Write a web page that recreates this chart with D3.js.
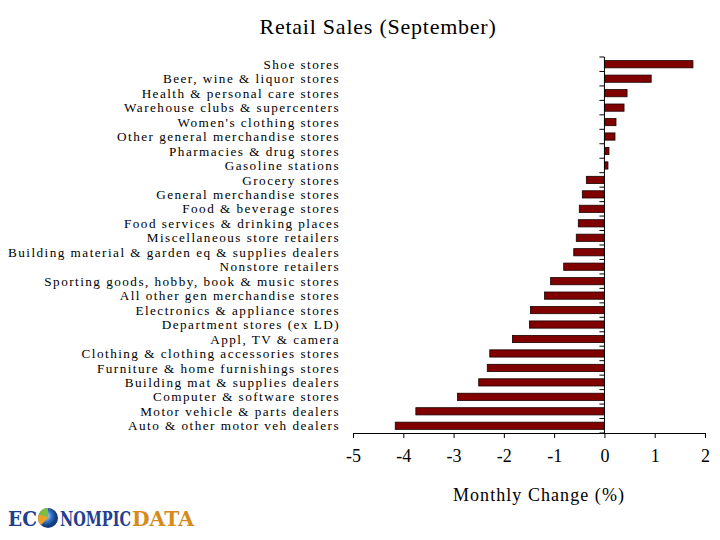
<!DOCTYPE html>
<html><head><meta charset="utf-8">
<script src="https://cdn.jsdelivr.net/npm/d3@7"></script>
<style>body{margin:0;background:#fff}svg{display:block}</style>
</head><body>
<script>
const categories = ["Shoe stores","Beer, wine & liquor stores","Health & personal care stores","Warehouse clubs & supercenters","Women's clothing stores","Other general merchandise stores","Pharmacies & drug stores","Gasoline stations","Grocery stores","General merchandise stores","Food & beverage stores","Food services & drinking places","Miscellaneous store retailers","Building material & garden eq & supplies dealers","Nonstore retailers","Sporting goods, hobby, book & music stores","All other gen merchandise stores","Electronics & appliance stores","Department stores (ex LD)","Appl, TV &  camera","Clothing & clothing accessories stores","Furniture & home furnishings stores","Building mat & supplies dealers","Computer & software stores","Motor vehicle & parts dealers","Auto & other motor veh dealers"];
const values = [1.76,0.93,0.45,0.39,0.23,0.21,0.09,0.07,-0.36,-0.44,-0.50,-0.52,-0.56,-0.61,-0.81,-1.07,-1.19,-1.47,-1.49,-1.83,-2.28,-2.33,-2.50,-2.92,-3.75,-4.16];
const xTicks = [-5,-4,-3,-2,-1,0,1,2];
const title = "Retail Sales (September)";
const xTitle = "Monthly Change (%)";

const W=720,H=540;
const svg=d3.select("body").append("svg").attr("width",W).attr("height",H);
const font="'Liberation Serif','DejaVu Serif',serif";
const x=d3.scaleLinear().domain([-5,2]).range([353,705]);
const y=d3.scaleBand().domain(categories).range([57,433]).paddingInner(0.5).paddingOuter(0.25);

function fitWidth(sel, target){
  const n=sel.text().length;
  const w=sel.node().getComputedTextLength();
  sel.attr("letter-spacing",((target-w)/n)+"px");
}

const t=svg.append("text").attr("x",378).attr("y",34).attr("text-anchor","middle")
  .attr("font-family",font).attr("font-size",22).attr("fill","#000").text(title);
fitWidth(t,237);

// bars
svg.append("g").selectAll("rect").data(categories).join("rect")
  .attr("x",(d,i)=>x(Math.min(0,values[i])))
  .attr("width",(d,i)=>Math.abs(x(values[i])-x(0)))
  .attr("y",d=>y(d)).attr("height",y.bandwidth())
  .attr("fill","#800000").attr("stroke","#1a0000").attr("stroke-width",0.8);

// x axis
const xa=svg.append("g").attr("transform","translate(0,433)")
  .call(d3.axisBottom(x).tickValues(xTicks).tickSize(5).tickSizeOuter(0).tickFormat(d3.format("d")));
xa.select(".domain").attr("stroke","#000");
xa.selectAll("line").attr("stroke","#000");
xa.selectAll("text").attr("font-family",font).attr("font-size",18).attr("fill","#000").attr("dy","1.15em")
  .text(d=>d<0?"-"+Math.abs(d):d);

// category axis at zero
const yg=svg.append("g");
yg.append("line").attr("x1",x(0)).attr("x2",x(0)).attr("y1",57).attr("y2",433).attr("stroke","#000");
const bounds=d3.range(categories.length+1).map(i=>57+i*(376/categories.length));
yg.selectAll("line.t").data(bounds).join("line").attr("class","t")
  .attr("x1",x(0)-5).attr("x2",x(0)).attr("y1",d=>d).attr("y2",d=>d).attr("stroke","#000");

// category labels
const labels=svg.append("g").selectAll("text").data(categories).join("text")
  .attr("x",340).attr("y",d=>y(d)+y.bandwidth()/2).attr("dy","0.35em")
  .attr("text-anchor","end").attr("font-family",font).attr("font-size",13.2).attr("fill","#000")
  .text(d=>d);
const longest=labels.filter(d=>d==="Building material & garden eq & supplies dealers");
const lw=longest.node().getComputedTextLength();
const ls=(332-lw)/longest.text().length;
labels.attr("letter-spacing",ls+"px");

const xt=svg.append("text").attr("x",539).attr("y",501).attr("text-anchor","middle")
  .attr("font-family",font).attr("font-size",18).attr("fill","#000").text(xTitle);
fitWidth(xt,172);

// logo
const defs=svg.append("defs");
const gr=defs.append("radialGradient").attr("id","globe").attr("cx","40%").attr("cy","40%");
gr.append("stop").attr("offset","0%").attr("stop-color","#cfe6ff");
gr.append("stop").attr("offset","60%").attr("stop-color","#2f6fc0");
gr.append("stop").attr("offset","100%").attr("stop-color","#123c7a");
function logoText(str,color,x0,width){
  const g=svg.append("g");
  const tx=g.append("text").attr("x",0).attr("y",0).attr("font-family","'DejaVu Serif',serif")
    .attr("font-weight","bold").attr("font-size",21).attr("fill",color).text(str);
  const w=tx.node().getComputedTextLength();
  g.attr("transform",`translate(${x0},526) scale(${width/w},1)`);
}
logoText("EC","#1f3f8f",8,29);
svg.append("circle").attr("cx",48).attr("cy",518).attr("r",10).attr("fill","url(#globe)");
svg.append("path").attr("d","M48,518 L48,508 A10,10 0 0,0 39,514 Z").attr("fill","#7fbf3f");
svg.append("path").attr("d","M48,518 L39,514 A10,10 0 0,0 41,525 Z").attr("fill","#f0a020");
logoText("NOMPIC","#1f3f8f",60,71);
logoText("DATA","#d68a1c",132,62);
</script>
</body></html>
